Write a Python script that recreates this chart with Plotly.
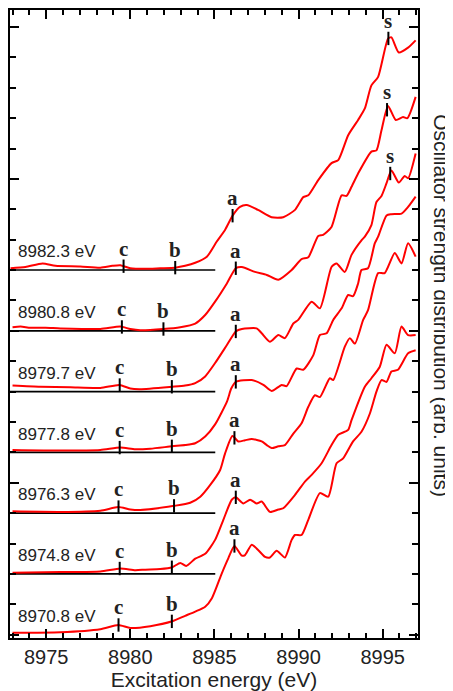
import numpy as np
import plotly.graph_objects as go

# ---------------- data ----------------
labels = ["8982.3 eV", "8980.8 eV", "8979.7 eV", "8977.8 eV", "8976.3 eV", "8974.8 eV", "8970.8 eV"]
offsets = [6, 5, 4, 3, 2, 1, 0]

e1 = [8972.88, 8973.77, 8974.78, 8975.55, 8977.03, 8978.22, 8978.93, 8979.41, 8980.0, 8980.89, 8981.78,
      8982.67, 8983.26, 8983.86, 8984.55, 8985.14, 8985.63, 8986.09, 8986.52, 8986.92, 8987.59, 8988.40,
      8989.09, 8989.79, 8990.28, 8990.58, 8991.17, 8991.96, 8992.36, 8992.95, 8993.54, 8993.94, 8994.33,
      8994.73, 8995.32, 8995.52, 8995.96, 8996.51, 8996.96]
i1 = [0.03, 0.05, 0.11, 0.07, 0.06, 0.04, 0.07, 0.08, 0.03, 0.02, 0.03, 0.04, 0.07, 0.12, 0.22, 0.47,
      0.66, 0.90, 1.04, 1.07, 0.99, 0.87, 0.87, 0.99, 1.20, 1.23, 1.48, 1.76, 1.81, 2.22, 2.47, 2.66,
      3.04, 3.18, 3.81, 3.83, 3.58, 3.66, 3.78]

e2 = [8973.0, 8973.48, 8974.07, 8974.96, 8975.85, 8978.22, 8979.41, 8980.0, 8980.59, 8981.96, 8982.97,
      8983.86, 8984.45, 8985.04, 8985.74, 8986.27, 8986.63, 8987.41, 8988.11, 8988.80, 8989.59, 8990.18,
      8990.58, 8991.17, 8991.46, 8991.96, 8992.56, 8992.85, 8993.15, 8993.54, 8994.33, 8994.63, 8994.93,
      8995.32, 8995.78, 8996.21, 8996.47, 8996.96]
i2 = [0.06, 0.07, 0.05, 0.05, 0.04, 0.03, 0.07, 0.03, 0.01, 0.03, 0.06, 0.12, 0.26, 0.48, 0.78, 1.03,
      1.05, 0.97, 0.92, 0.84, 1.00, 1.18, 1.21, 1.56, 1.58, 1.71, 2.23, 2.22, 2.37, 2.59, 2.95, 2.97,
      3.30, 3.70, 3.47, 3.52, 3.50, 3.85]

e3 = [8973.0, 8974.66, 8976.44, 8978.22, 8979.35, 8980.0, 8980.59, 8982.49, 8983.26, 8983.86, 8984.45,
      8985.04, 8985.75, 8986.27, 8986.63, 8987.51, 8987.81, 8988.30, 8988.80, 8989.19, 8989.69, 8989.98,
      8990.78, 8991.27, 8991.96, 8992.26, 8992.75, 8993.15, 8993.74, 8993.94, 8994.33, 8994.63, 8994.93,
      8995.23, 8995.52, 8995.96, 8996.31, 8996.51, 8996.96]
i3 = [0.10, 0.08, 0.07, 0.06, 0.11, 0.05, 0.04, 0.08, 0.10, 0.14, 0.25, 0.47, 0.77, 0.99, 1.03, 1.04,
      0.96, 0.82, 0.93, 0.88, 1.12, 1.18, 1.48, 1.37, 2.05, 2.11, 1.97, 2.25, 2.49, 2.55, 2.74, 3.12,
      3.22, 3.43, 3.64, 3.44, 3.55, 3.51, 3.92]

e4 = [8973.0, 8975.85, 8978.22, 8979.41, 8980.3, 8981.19, 8982.49, 8983.26, 8983.86, 8984.45, 8985.04,
      8985.75, 8986.0, 8986.27, 8987.22, 8987.91, 8988.40, 8989.0, 8989.29, 8989.89, 8990.28, 8990.88,
      8991.27, 8991.67, 8992.06, 8992.56, 8992.95, 8993.24, 8993.54, 8993.74, 8994.13, 8994.53, 8994.73,
      8995.23, 8995.52, 8996.12, 8996.51, 8996.96]
i4 = [0.04, 0.03, 0.04, 0.08, 0.05, 0.06, 0.10, 0.12, 0.15, 0.26, 0.46, 0.84, 1.05, 1.16, 1.19, 1.11,
      1.01, 1.11, 1.09, 1.38, 1.36, 1.60, 1.93, 1.96, 2.18, 2.37, 2.59, 2.57, 2.78, 3.00, 3.03, 3.44,
      3.55, 3.90, 3.92, 3.93, 4.04, 4.21]

e5 = [8973.0, 8975.85, 8978.22, 8979.29, 8980.0, 8980.59, 8982.61, 8983.56, 8984.16, 8984.74, 8985.34,
      8985.63, 8986.07, 8986.42, 8986.82, 8987.22, 8987.81, 8988.11, 8988.40, 8988.80, 8989.19, 8989.69,
      8990.18, 8990.58, 8990.97, 8991.27, 8991.86, 8992.06, 8992.75, 8993.05, 8993.35, 8993.84, 8994.13,
      8994.73, 8995.12, 8995.72, 8996.12, 8996.51, 8996.96]
i5 = [0.03, 0.02, 0.04, 0.10, 0.06, 0.05, 0.12, 0.17, 0.27, 0.46, 0.71, 0.98, 1.27, 1.18, 1.20, 1.22,
      1.18, 1.12, 1.07, 1.10, 1.12, 1.31, 1.48, 1.75, 1.94, 1.91, 2.22, 2.19, 2.74, 2.88, 2.79, 3.18,
      3.34, 3.95, 3.95, 4.28, 4.11, 4.44, 4.22]

e6 = [8973.0, 8975.85, 8978.22, 8979.41, 8980.3, 8980.89, 8981.78, 8982.49, 8982.97, 8983.32, 8983.86,
      8984.45, 8985.04, 8985.53, 8986.03, 8986.27, 8986.72, 8987.12, 8987.51, 8987.81, 8988.30, 8988.80,
      8989.09, 8989.79, 8990.38, 8990.78, 8991.37, 8991.96, 8992.36, 8992.95, 8993.15, 8993.94, 8994.33,
      8994.83, 8995.23, 8995.72, 8996.12, 8996.51, 8996.96]
i6 = [0.02, 0.03, 0.04, 0.09, 0.06, 0.07, 0.08, 0.11, 0.18, 0.13, 0.25, 0.33, 0.56, 0.89, 1.22, 1.26,
      1.16, 1.22, 1.16, 1.19, 1.02, 1.06, 1.08, 1.30, 1.52, 1.63, 1.82, 2.12, 2.29, 2.37, 2.53, 3.08,
      3.22, 3.41, 3.77, 3.63, 4.07, 3.93, 3.93]

e7 = [8973.0, 8975.85, 8978.22, 8979.29, 8980.0, 8981.19, 8982.49, 8983.26, 8983.86, 8984.45, 8984.85,
      8985.44, 8985.83, 8986.19, 8986.63, 8986.82, 8987.22, 8987.61, 8988.01, 8988.30, 8988.70, 8989.19,
      8989.59, 8989.79, 8990.18, 8990.58, 8991.27, 8991.76, 8992.26, 8992.65, 8993.24, 8993.74, 8994.24,
      8994.63, 8994.93, 8995.23, 8995.52, 8995.91, 8996.51, 8996.96]
i7 = [0.03, 0.04, 0.09, 0.16, 0.11, 0.14, 0.22, 0.31, 0.38, 0.46, 0.60, 1.01, 1.26, 1.46, 1.30, 1.31,
      1.48, 1.39, 1.28, 1.27, 1.38, 1.27, 1.56, 1.64, 1.64, 1.89, 2.33, 2.27, 2.82, 2.90, 3.18, 3.34,
      3.64, 4.00, 4.19, 4.16, 4.33, 4.36, 4.63, 4.68]

energies = [e1, e2, e3, e4, e5, e6, e7]
intensities = [i1, i2, i3, i4, i5, i6, i7]

# feature positions (eV) for each spectrum, top to bottom
c_pos = [8979.60, 8979.50, 8979.37, 8979.37, 8979.30, 8979.37, 8979.30]
b_pos = [8982.67, 8981.97, 8982.47, 8982.47, 8982.60, 8982.47, 8982.47]
a_pos = [8986.08, 8986.27, 8986.27, 8986.27, 8986.19, 8986.27, 8986.19]
s_pos = [8995.34, 8995.26, 8995.45, None, None, None, None]

x_range = [8972.85, 8997.1]
y_range = [-0.055, 10.28]
baseline_end = 8985.05

# ---------------- figure ----------------
fig = go.Figure()

for off in offsets:
    if off > 0:
        fig.add_trace(go.Scatter(x=[x_range[0], baseline_end], y=[off, off], mode="lines",
                                 line=dict(color="black", width=1.6), hoverinfo="skip", showlegend=False))

for e, inten, off in zip(energies, intensities, offsets):
    fig.add_trace(go.Scatter(x=e, y=np.array(inten) + off, mode="lines",
                             line=dict(color="#ff0000", width=2, shape="spline", smoothing=0.6),
                             hoverinfo="skip", showlegend=False))

half = 0.11
shapes = []
annotations = []
for idx, (e, inten, off) in enumerate(zip(energies, intensities, offsets)):
    for letter, plist in (("c", c_pos), ("b", b_pos), ("a", a_pos), ("s", s_pos)):
        pos = plist[idx]
        if pos is None:
            continue
        v = float(np.interp(pos, e, inten)) + off
        shapes.append(dict(type="line", xref="x", yref="y", x0=pos, x1=pos, y0=v - half, y1=v + half,
                           line=dict(color="black", width=2)))
        annotations.append(dict(x=pos, y=v + half, xref="x", yref="y", text="<b>%s</b>" % letter,
                                showarrow=False, xanchor="center", yanchor="bottom", yshift=-3,
                                font=dict(family="Liberation Serif", size=21, color="#222")))
    annotations.append(dict(x=8973.2, y=off + 0.30, xref="x", yref="y", text=labels[idx],
                            showarrow=False, xanchor="left", yanchor="middle",
                            font=dict(family="Liberation Sans", size=17, color="#222")))

annotations.append(dict(x=1.056, y=0.5287, xref="paper", yref="paper",
                        text="Oscillator strength distribution (arb. units)", textangle=90,
                        showarrow=False, xanchor="center", yanchor="middle",
                        font=dict(family="Liberation Sans", size=21, color="#222")))

fig.update_layout(
    width=445, height=683,
    margin=dict(l=2, r=35, t=2, b=53),
    paper_bgcolor="white", plot_bgcolor="white",
    shapes=shapes, annotations=annotations,
    xaxis=dict(range=x_range, tick0=8975, dtick=5, ticks="inside", ticklen=9, tickwidth=1.5,
               tickcolor="black", minor=dict(dtick=1, ticks="inside", ticklen=5, tickwidth=1.5,
                                               tickcolor="black"),
               showline=True, linewidth=2, linecolor="black", mirror="ticks",
               showgrid=False, zeroline=False, automargin=False,
               tickfont=dict(family="Liberation Sans", size=20, color="#222"),
               title=dict(text="Excitation energy (eV)", standoff=1,
                          font=dict(family="Liberation Sans", size=21, color="#222"))),
    yaxis=dict(range=y_range, tick0=0, dtick=2.5, ticks="inside", ticklen=9, tickwidth=1.5,
               tickcolor="black", minor=dict(dtick=0.5, ticks="inside", ticklen=6, tickwidth=1.5,
                                               tickcolor="black"),
               showticklabels=False, showline=True, linewidth=2, linecolor="black", mirror="ticks",
               showgrid=False, zeroline=False, automargin=False),
)

fig.write_html("out.html")
